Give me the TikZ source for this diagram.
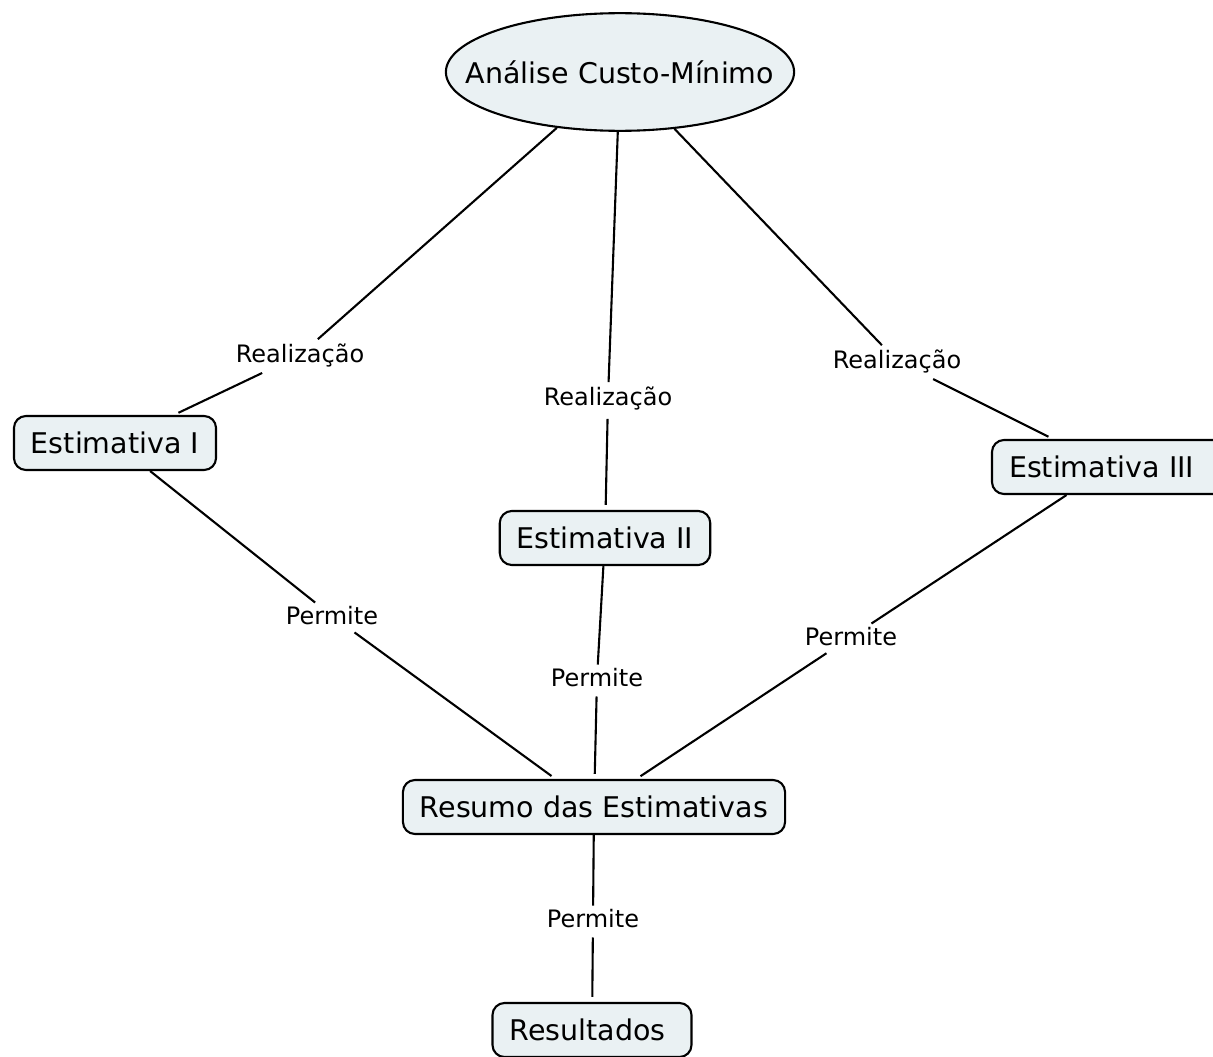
\documentclass[tikz,border=0pt]{standalone}
\usepackage{fontspec}
\setmainfont{DejaVu Sans}
\usetikzlibrary{shapes.geometric}
\definecolor{boxfill}{RGB}{234,241,243}
\begin{document}
\begin{tikzpicture}[x=1pt,y=-1pt,
  concept/.style={draw=black,line width=2.1pt,fill=boxfill,rounded corners=12pt,
    inner xsep=17pt,inner ysep=0pt,minimum height=54pt,
    font=\fontsize{28.5}{34}\selectfont},
  topic/.style={ellipse,draw=black,line width=2.1pt,fill=boxfill,
    inner xsep=-31pt,inner ysep=30pt,
    font=\fontsize{28.5}{34}\selectfont},
  linklabel/.style={inner sep=4pt,font=\fontsize{24}{28}\selectfont},
  link/.style={line width=2.1pt,shorten <=5pt,shorten >=5pt}]
\clip (0,0) rectangle (1213,1057);
\fill[white] (0,0) rectangle (1213,1057);

% concepts
\node[topic]   (acm)  at (620,72)   {Análise Custo-Mínimo};
\node[concept] (est1) at (115,443)  {Estimativa I};
\node[concept] (est2) at (605,538)  {Estimativa II};
\node[concept,text width=200pt,align=left] (est3) at (1109,467) {Estimativa III};
\node[concept] (res)  at (594,807)  {Resumo das Estimativas};
\node[concept,text width=165pt,align=left] (out) at (592,1030) {Resultados};

% linking phrases
\node[linklabel] (r1) at (300,355) {Realização};
\node[linklabel] (r2) at (608,398) {Realização};
\node[linklabel] (r3) at (897,361) {Realização};
\node[linklabel] (p1) at (332,616) {Permite};
\node[linklabel] (p2) at (597,678) {Permite};
\node[linklabel] (p3) at (851,637) {Permite};
\node[linklabel] (p4) at (593,919) {Permite};

% connectors
\draw[link] (acm) -- (r1) -- (est1);
\draw[link] (acm) -- (r2) -- (est2);
\draw[link] (acm) -- (r3) -- (est3);
\draw[link] (est1) -- (p1) -- (res);
\draw[link] (est2) -- (p2) -- (res);
\draw[link] (est3) -- (p3) -- (res);
\draw[link] (res) -- (p4) -- (out);
\end{tikzpicture}
\end{document}
